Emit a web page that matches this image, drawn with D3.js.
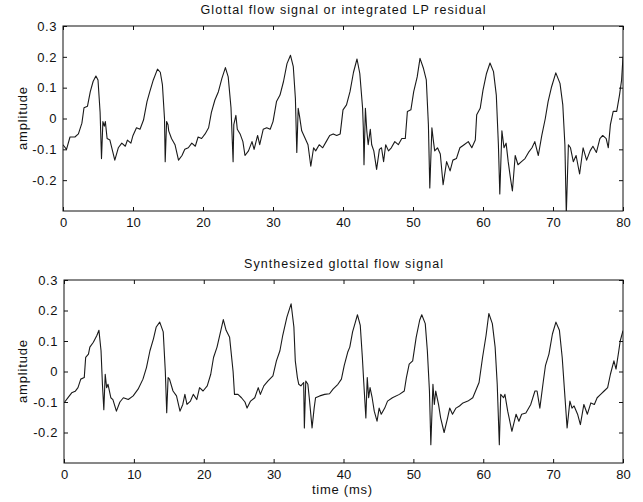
<!DOCTYPE html>
<html>
<head>
<meta charset="utf-8">
<script src="https://cdn.jsdelivr.net/npm/d3@7"></script>
<style>
  body { margin: 0; background: #fff; }
  text { font-family: "Liberation Sans", Arial, sans-serif; fill: #111; }
</style>
</head>
<body>
<div id="chart"></div>
<script>
// Top panel: glottal flow / integrated LP residual (time in ms, amplitude)
const topTime = [0, 0.5, 1, 1.7, 2.2, 2.7, 3, 3.5, 3.9, 4.3, 4.7, 5.0, 5.3, 5.5, 5.7, 5.9, 6.05, 6.3, 6.7, 7.4, 7.9, 8.4, 8.9, 9.2, 9.7,
  10, 10.5, 11, 11.5, 12, 12.4, 12.9, 13.5, 13.9, 14.2, 14.5, 14.6, 14.8, 15, 15.1, 15.5, 16, 16.5, 17, 17.4, 17.9, 18.4, 18.9, 19.3, 19.8,
  20.3, 20.8, 21.2, 21.7, 22.2, 22.7, 23.2, 23.6, 24, 24.3, 24.4, 24.7, 24.9, 25.3, 25.7, 26, 26.5, 27, 27.3, 27.8, 28.1, 28.6, 29.1, 29.6,
  30, 30.5, 31, 31.5, 32, 32.5, 32.9, 33.2, 33.4, 33.6, 33.8, 34.1, 34.6, 35, 35.4, 35.8, 36.1, 36.6, 37.1, 37.6, 38.1, 38.6, 39.1, 39.6,
  40, 40.5, 41, 41.5, 42, 42.4, 42.8, 42.9, 43.0, 43.2, 43.4, 43.6, 43.9, 44.1, 44.4, 44.8, 45.2, 45.5, 45.8, 46.1, 46.5, 46.9, 47.4, 47.9,
  48.4, 48.9, 49.2, 49.7, 50.1, 50.6, 51.0, 51.5, 51.9, 52.2, 52.4, 52.7, 52.9, 53.1, 53.5, 53.9, 54.3, 54.8, 55.3, 55.7, 56.2, 56.7, 57.3,
  57.9, 58.4, 58.9, 59.1, 59.6, 60.0, 60.5, 61.0, 61.5, 61.9, 62.2, 62.4, 62.7, 63.0, 63.3, 63.6, 63.9, 64.2, 64.6, 65.0, 65.5, 66.0, 66.5,
  67.0, 67.4, 67.9, 68.4, 68.9, 69.3, 69.8, 70.4, 71.0, 71.4, 71.7, 71.9, 72.2, 72.5, 72.9, 73.3, 73.8, 74.3, 74.8, 75.3, 75.7, 76.2, 76.7,
  77.1, 77.6, 77.9, 78.2, 78.6, 79.1, 79.5, 79.8, 80];
const topAmp = [-0.085, -0.10, -0.06, -0.06, -0.05, -0.015, 0.035, 0.04, 0.087, 0.12, 0.138, 0.125, 0.02, -0.13, -0.01, -0.025, -0.01, -0.065, -0.07, -0.135, -0.095, -0.08, -0.09, -0.07, -0.08,
  -0.055, -0.03, -0.035, -0.005, 0.055, 0.087, 0.125, 0.16, 0.15, 0.11, 0.0, -0.14, -0.01, -0.02, -0.04, -0.065, -0.085, -0.135, -0.12, -0.10, -0.095, -0.08, -0.09, -0.06, -0.065,
  -0.05, -0.03, 0.02, 0.06, 0.087, 0.13, 0.165, 0.135, 0.035, -0.14, -0.02, 0.01, -0.035, -0.05, -0.075, -0.12, -0.105, -0.075, -0.10, -0.055, -0.085, -0.035, -0.03, -0.035,
  -0.01, 0.055, 0.076, 0.12, 0.178, 0.205, 0.168, 0.065, -0.11, 0.033, 0.006, -0.04, -0.065, -0.085, -0.155, -0.095, -0.105, -0.085, -0.095, -0.075, -0.055, -0.05, -0.055, -0.05,
  0.028, 0.044, 0.087, 0.15, 0.193, 0.146, 0.033, -0.03, -0.15, 0.033, -0.04, -0.085, -0.035, -0.085, -0.105, -0.165, -0.10, -0.095, -0.14, -0.085, -0.105, -0.095, -0.075, -0.085,
  -0.065, -0.065, 0.023, 0.028, 0.087, 0.135, 0.195, 0.162, 0.125, -0.02, -0.225, -0.03, -0.07, -0.105, -0.095, -0.115, -0.215, -0.14, -0.17, -0.135, -0.13, -0.095, -0.085,
  -0.075, -0.095, -0.07, 0.012, 0.033, 0.092, 0.146, 0.18, 0.152, 0.076, -0.085, -0.245, -0.04, -0.095, -0.08, -0.14, -0.19, -0.235, -0.12, -0.15, -0.14, -0.13, -0.11,
  -0.095, -0.075, -0.12, -0.055, 0.0, 0.055, 0.103, 0.148, 0.114, 0.044, -0.085, -0.31, -0.085, -0.095, -0.14, -0.12, -0.18, -0.095, -0.135, -0.105, -0.09, -0.11, -0.065,
  -0.055, -0.065, -0.095, -0.02, 0.023, 0.023, 0.076, 0.125, 0.2];

// Bottom panel: synthesized glottal flow
const botTime = [0.1, 0.6, 1.1, 1.6, 2.0, 2.4, 2.9, 3.1, 3.5, 3.7, 4.2, 4.7, 5.0, 5.3, 5.5, 5.7, 5.9, 6.1, 6.3, 6.7, 7.0, 7.5, 8.0, 8.5, 9.2, 9.9,
  10.6, 11.3, 11.8, 12.3, 12.8, 13.2, 13.7, 14.2, 14.5, 14.7, 14.9, 15.1, 15.6, 16.1, 16.6, 17.0, 17.3, 17.6, 18.1, 18.5, 19.0, 19.4, 19.9,
  20.5, 21.0, 21.4, 21.9, 22.4, 22.8, 23.2, 23.7, 24.2, 24.4, 24.9, 25.4, 25.9, 26.2, 26.7, 27.3, 27.8, 28.1, 28.6, 29.2, 29.9,
  30.4, 30.9, 31.3, 31.9, 32.5, 32.9, 33.1, 33.4, 33.6, 33.9, 34.3, 34.4, 34.6, 34.9, 35.1, 35.5, 35.8, 36.0, 36.6, 37.3, 38.0, 38.5, 39.2, 39.7,
  40.1, 40.6, 40.9, 41.3, 41.7, 42.0, 42.4, 42.7, 42.9, 43.2, 43.4, 43.6, 43.8, 44.1, 44.4, 44.8, 45.1, 45.4, 45.9, 46.3, 47.0, 48.0, 48.7,
  49.0, 49.4, 49.9, 50.4, 50.9, 51.2, 51.7, 52.0, 52.3, 52.5, 52.8, 53.0, 53.2, 53.6, 53.9, 54.4, 54.9, 55.2, 55.6, 56.1, 56.6, 57.1, 57.8,
  58.5, 58.9, 59.4, 59.9, 60.4, 60.8, 61.3, 61.7, 62.0, 62.3, 62.5, 62.9, 63.1, 63.5, 64.1, 64.7, 65.1, 65.5, 66.1, 66.8, 67.4, 67.7,
  68.1, 68.6, 68.9, 69.4, 69.9, 70.4, 70.9, 71.3, 71.7, 72.0, 72.4, 72.7, 73.0, 73.5, 73.9, 74.4, 74.9, 75.4, 75.9, 76.3, 76.8, 77.3, 77.8,
  78.2, 78.7, 79.0, 79.4, 79.6, 80];
const botAmp = [-0.10, -0.085, -0.07, -0.065, -0.053, -0.025, -0.02, 0.046, 0.057, 0.08, 0.096, 0.118, 0.135, 0.068, -0.042, -0.125, -0.009, -0.053, -0.042, -0.086, -0.092, -0.13, -0.10, -0.086, -0.092, -0.08,
  -0.058, -0.025, 0.013, 0.068, 0.107, 0.146, 0.162, 0.13, 0.0, -0.135, -0.02, -0.025, -0.064, -0.08, -0.13, -0.108, -0.075, -0.108, -0.097, -0.075, -0.092, -0.053, -0.064,
  -0.047, -0.009, 0.046, 0.08, 0.13, 0.17, 0.135, 0.112, 0.0, -0.075, -0.075, -0.086, -0.10, -0.12, -0.097, -0.086, -0.053, -0.075, -0.047, -0.031, -0.014,
  0.035, 0.068, 0.118, 0.178, 0.222, 0.146, 0.035, -0.02, -0.042, -0.047, -0.036, -0.185, -0.031, -0.042, -0.086, -0.185, -0.12, -0.086, -0.08, -0.075, -0.073, -0.058, -0.042, -0.025,
  0.019, 0.063, 0.08, 0.13, 0.162, 0.186, 0.151, 0.046, -0.036, -0.152, -0.02, -0.086, -0.053, -0.086, -0.13, -0.163, -0.12, -0.14, -0.12, -0.097, -0.086, -0.075, -0.064,
  -0.02, 0.024, 0.035, 0.112, 0.168, 0.186, 0.157, 0.068, -0.064, -0.24, -0.042, -0.108, -0.064, -0.108, -0.152, -0.20, -0.152, -0.12, -0.14, -0.12, -0.113, -0.103, -0.097,
  -0.086, -0.064, -0.036, 0.046, 0.118, 0.19, 0.157, 0.08, -0.042, -0.24, -0.075, -0.086, -0.075, -0.13, -0.196, -0.14, -0.163, -0.14, -0.136, -0.108, -0.064, -0.064,
  -0.12, -0.031, 0.019, 0.057, 0.123, 0.162, 0.135, 0.046, -0.086, -0.185, -0.097, -0.12, -0.113, -0.14, -0.174, -0.108, -0.14, -0.103, -0.108, -0.086, -0.075, -0.064, -0.053,
  -0.009, 0.035, 0.008, 0.068, 0.10, 0.134];

const xTicks = [0, 10, 20, 30, 40, 50, 60, 70, 80];
const yTicks = [-0.2, -0.1, 0, 0.1, 0.2, 0.3];
const yTickLabels = ["-0.2", "-0.1", "0", "0.1", "0.2", "0.3"];

const W = 643, H = 502;
const svg = d3.select("#chart").append("svg")
    .attr("width", W)
    .attr("height", H);

function drawPanel(cfg) {
    const x = d3.scaleLinear().domain([0, 80]).range([cfg.left, cfg.right]);
    const y = d3.scaleLinear().domain([-0.3, 0.3]).range([cfg.bottom, cfg.top]);

    const g = svg.append("g");

    g.append("clipPath").attr("id", cfg.id)
        .append("rect")
        .attr("x", cfg.left).attr("y", cfg.top)
        .attr("width", cfg.right - cfg.left).attr("height", cfg.bottom - cfg.top);

    // signal trace
    const line = d3.line()
        .x((d, i) => x(cfg.time[i]))
        .y(d => y(d));

    g.append("path")
        .datum(cfg.amp)
        .attr("clip-path", `url(#${cfg.id})`)
        .attr("d", line)
        .attr("fill", "none")
        .attr("stroke", "#1a1a1a")
        .attr("stroke-width", 1.1)
        .attr("stroke-linejoin", "round");

    // axes with inward ticks (matlab style box)
    const tick = 4;
    const fmt = d => yTickLabels[yTicks.indexOf(d)];

    const xAxis = g.append("g")
        .attr("transform", `translate(0,${cfg.bottom})`)
        .call(d3.axisBottom(x).tickValues(xTicks).tickSizeInner(-tick).tickSizeOuter(0).tickPadding(7));
    const yAxis = g.append("g")
        .attr("transform", `translate(${cfg.left},0)`)
        .call(d3.axisLeft(y).tickValues(yTicks).tickFormat(fmt).tickSizeInner(-tick).tickSizeOuter(0).tickPadding(6));
    const xTop = g.append("g")
        .attr("transform", `translate(0,${cfg.top})`)
        .call(d3.axisTop(x).tickValues(xTicks).tickSizeInner(-tick).tickSizeOuter(0).tickFormat(""));
    const yRight = g.append("g")
        .attr("transform", `translate(${cfg.right},0)`)
        .call(d3.axisRight(y).tickValues(yTicks).tickSizeInner(-tick).tickSizeOuter(0).tickFormat(""));

    [xAxis, yAxis, xTop, yRight].forEach(a => {
        a.select(".domain").remove();
        a.selectAll("line").attr("stroke", "#111");
        a.selectAll("text")
            .style("font-family", '"Liberation Sans", Arial, sans-serif')
            .style("font-size", "13px")
            .attr("fill", "#111");
    });
    yAxis.selectAll("text").style("letter-spacing", "0.6px");

    g.append("rect")
        .attr("x", cfg.left).attr("y", cfg.top)
        .attr("width", cfg.right - cfg.left).attr("height", cfg.bottom - cfg.top)
        .attr("fill", "none")
        .attr("stroke", "#111")
        .attr("stroke-width", 1);

    g.append("text")
        .attr("x", (cfg.left + cfg.right) / 2)
        .attr("y", cfg.top - 12)
        .attr("text-anchor", "middle")
        .style("font-size", "12.5px")
        .attr("textLength", cfg.titleWidth)
        .text(cfg.title);

    g.append("text")
        .attr("transform", `translate(27,${(cfg.top + cfg.bottom) / 2}) rotate(-90)`)
        .attr("text-anchor", "middle")
        .style("font-size", "13px")
        .attr("textLength", 63)
        .text("amplitude");
}

drawPanel({ id: "clipTop", time: topTime, amp: topAmp, left: 63, right: 623, top: 26, bottom: 211,
    title: "Glottal flow signal or integrated LP residual", titleWidth: 285 });
drawPanel({ id: "clipBot", time: botTime, amp: botAmp, left: 64, right: 623, top: 280, bottom: 463,
    title: "Synthesized glottal flow signal", titleWidth: 199 });

svg.append("text")
    .attr("x", 342)
    .attr("y", 494)
    .attr("text-anchor", "middle")
    .style("font-size", "13px")
    .attr("textLength", 60)
    .text("time (ms)");
</script>
</body>
</html>
